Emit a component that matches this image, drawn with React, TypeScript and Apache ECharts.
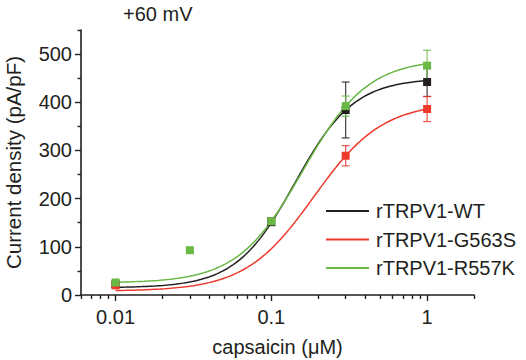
import React, { useEffect, useRef } from "react";
import * as echarts from "echarts";

const seriesNames = ["rTRPV1-WT", "rTRPV1-G563S", "rTRPV1-R557K"];
const seriesColors = ["#231f20", "#ee3a2c", "#6ab845"];

// measured points (capsaicin µM, current density pA/pF, SEM)
const wtConc = [0.01, 0.1, 0.3, 1];
const wtMean = [22, 152, 384, 442];
const wtSem = [4, 8, 58, 30];

const g563sConc = [0.01, 0.3, 1];
const g563sMean = [20, 289, 386];
const g563sSem = [4, 21, 26];

const r557kConc = [0.01, 0.03, 0.1, 0.3, 1];
const r557kMean = [26, 93, 153, 392, 476];
const r557kSem = [3, 4, 6, 21, 32];

// Hill fit parameters: [bottom, top, EC50 (µM), Hill coefficient]
const wtFit = [15, 450, 0.1417, 2.29];
const g563sFit = [8, 400, 0.1875, 1.97];
const r557kFit = [25, 490, 0.159, 2.08];
const fitRange = [0.01, 1];

// axes
const xMinConc = 0.006;
const xMaxConc = 2;
const xMajorTicks = [0.01, 0.1, 1];
const xTickLabels = ["0.01", "0.1", "1"];
const xMinorTicks = [
  0.006, 0.007, 0.008, 0.009, 0.02, 0.03, 0.04, 0.05, 0.06, 0.07, 0.08, 0.09,
  0.2, 0.3, 0.4, 0.5, 0.6, 0.7, 0.8, 0.9, 2,
];
const yMajorTicks = [0, 100, 200, 300, 400, 500];
const yMinorTicks = [50, 150, 250, 350, 450, 550];
const yMax = 550;

const FONT = "'Liberation Sans', Arial, Helvetica, sans-serif";
const TEXT = "#231f20";

const lg = (v: number) => Math.log10(v);

function hillCurve(fit: number[]) {
  const [bottom, top, ec50, n] = fit;
  const pts: number[][] = [];
  const a = lg(fitRange[0]);
  const b = lg(fitRange[1]);
  const N = 120;
  for (let i = 0; i <= N; i++) {
    const lx = a + ((b - a) * i) / N;
    const x = Math.pow(10, lx);
    const y = bottom + (top - bottom) / (1 + Math.pow(ec50 / x, n));
    pts.push([lx, y]);
  }
  return pts;
}

function App() {
  const ref = useRef<HTMLDivElement>(null);
  useEffect(() => {
    if (!ref.current) return;
    const chart = echarts.init(ref.current, undefined, { renderer: "svg" });

    const groups = [
      { conc: wtConc, mean: wtMean, sem: wtSem, fit: wtFit },
      { conc: g563sConc, mean: g563sMean, sem: g563sSem, fit: g563sFit },
      { conc: r557kConc, mean: r557kMean, sem: r557kSem, fit: r557kFit },
    ];

    const series: any[] = [];
    groups.forEach((g, i) => {
      series.push({
        name: seriesNames[i],
        type: "line",
        data: hillCurve(g.fit),
        showSymbol: false,
        symbol: "none",
        smooth: false,
        lineStyle: { color: seriesColors[i], width: 1.5 },
        itemStyle: { color: seriesColors[i] },
        z: 2 + i,
      });
    });
    groups.forEach((g, i) => {
      series.push({
        name: seriesNames[i] + " SEM",
        type: "custom",
        data: g.conc.map((c, k) => [lg(c), g.mean[k] - g.sem[k], g.mean[k] + g.sem[k]]),
        encode: { x: 0, y: [1, 2] },
        z: 6 + i,
        renderItem: (params: any, api: any) => {
          const x = api.value(0);
          const p1 = api.coord([x, api.value(1)]);
          const p2 = api.coord([x, api.value(2)]);
          const w = 4;
          const style = { stroke: seriesColors[i], lineWidth: 1.2, opacity: 0.85 };
          return {
            type: "group",
            children: [
              { type: "line", shape: { x1: p1[0], y1: p1[1], x2: p2[0], y2: p2[1] }, style },
              { type: "line", shape: { x1: p1[0] - w, y1: p1[1], x2: p1[0] + w, y2: p1[1] }, style },
              { type: "line", shape: { x1: p2[0] - w, y1: p2[1], x2: p2[0] + w, y2: p2[1] }, style },
            ],
          };
        },
      });
    });
    groups.forEach((g, i) => {
      series.push({
        name: seriesNames[i] + " data",
        type: "scatter",
        data: g.conc.map((c, k) => [lg(c), g.mean[k]]),
        symbol: "rect",
        symbolSize: 8,
        itemStyle: { color: seriesColors[i], opacity: 1 },
        z: 10 + i,
      });
    });

    const axisLine = { show: true, onZero: false, lineStyle: { color: TEXT, width: 1.6 } };
    const hiddenLine = { show: false, onZero: false };

    chart.setOption({
      animation: false,
      grid: {
        left: 81,
        right: 52,
        top: 30,
        bottom: 65,
        containLabel: false,
        outerBoundsMode: "none",
      },
      legend: {
        data: seriesNames,
        orient: "vertical",
        left: 321,
        top: 196,
        itemWidth: 43,
        itemHeight: 2,
        itemGap: 8.5,
        icon: "rect",
        textStyle: { fontFamily: FONT, fontSize: 20, color: TEXT, padding: [0, 0, 0, 2] },
      },
      graphic: [
        {
          type: "text",
          left: 123,
          top: 4,
          style: { text: "+60 mV", font: `20px ${FONT}`, fill: TEXT },
        },
      ],
      xAxis: [
        {
          type: "value",
          position: "bottom",
          min: lg(xMinConc),
          max: lg(xMaxConc),
          axisLine,
          splitLine: { show: false },
          axisTick: {
            show: true,
            length: 6,
            customValues: xMajorTicks.map(lg),
            lineStyle: { color: TEXT, width: 1.4 },
          },
          axisLabel: {
            customValues: xMajorTicks.map(lg),
            formatter: (v: number) => {
              const idx = xMajorTicks.findIndex((t) => Math.abs(lg(t) - v) < 1e-6);
              return idx >= 0 ? xTickLabels[idx] : "";
            },
            margin: 12,
            fontFamily: FONT,
            fontSize: 20,
            color: TEXT,
          },
          name: "capsaicin (μM)",
          nameLocation: "middle",
          nameGap: 42,
          nameTextStyle: { fontFamily: FONT, fontSize: 20, color: TEXT },
        },
        {
          type: "value",
          position: "bottom",
          min: lg(xMinConc),
          max: lg(xMaxConc),
          axisLine: hiddenLine,
          splitLine: { show: false },
          axisLabel: { show: false },
          axisTick: {
            show: true,
            length: 4,
            customValues: xMinorTicks.map(lg),
            lineStyle: { color: TEXT, width: 1.4 },
          },
        },
      ],
      yAxis: [
        {
          type: "value",
          position: "left",
          min: 0,
          max: yMax,
          interval: 100,
          axisLine,
          splitLine: { show: false },
          axisTick: {
            show: true,
            length: 6,
            customValues: yMajorTicks,
            lineStyle: { color: TEXT, width: 1.4 },
          },
          axisLabel: {
            customValues: yMajorTicks,
            margin: 9,
            fontFamily: FONT,
            fontSize: 20,
            color: TEXT,
          },
          name: "Current density (pA/pF)",
          nameLocation: "middle",
          nameGap: 57,
          nameTextStyle: { fontFamily: FONT, fontSize: 20.5, color: TEXT },
        },
        {
          type: "value",
          position: "left",
          min: 0,
          max: yMax,
          interval: 50,
          axisLine: hiddenLine,
          splitLine: { show: false },
          axisLabel: { show: false },
          axisTick: {
            show: true,
            length: 3.5,
            customValues: yMinorTicks,
            lineStyle: { color: TEXT, width: 1.4 },
          },
        },
      ],
      series,
    });

    return () => chart.dispose();
  }, []);

  return (
    <div
      ref={ref}
      style={{ position: "fixed", left: 0, top: 0, width: 526, height: 360, background: "#fff" }}
    />
  );
}

export default App;
